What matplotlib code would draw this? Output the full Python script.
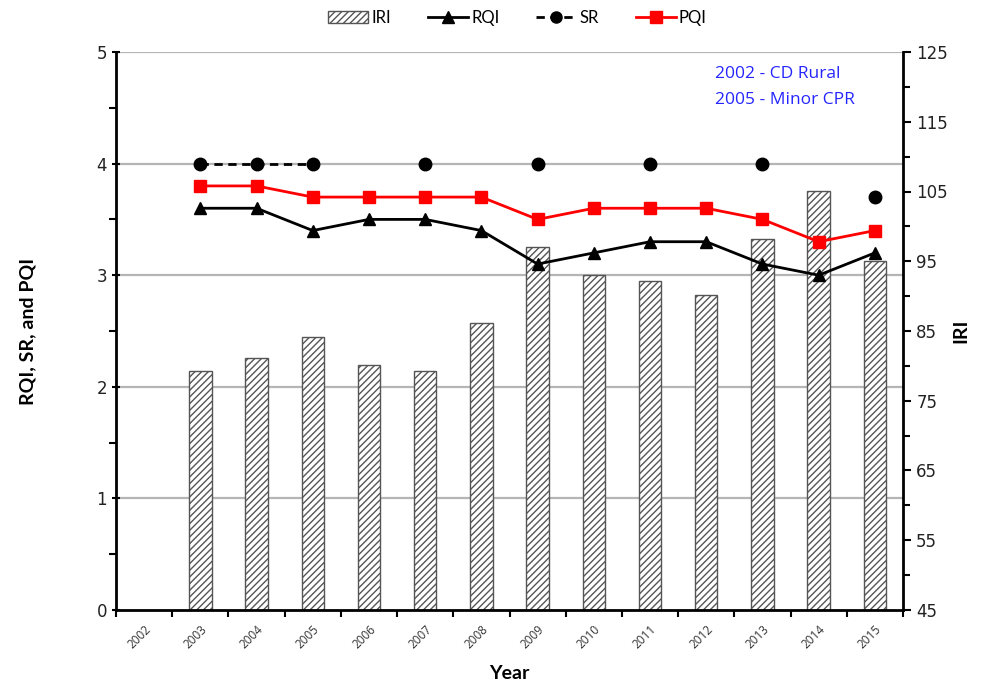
import numpy as np
import matplotlib
matplotlib.use("Agg")
import matplotlib.pyplot as plt
from matplotlib.lines import Line2D
from matplotlib.patches import Patch

years = ["2002", "2003", "2004", "2005", "2006", "2007", "2008", "2009",
         "2010", "2011", "2012", "2013", "2014", "2015"]
iri = [np.nan, 79.2, 81.1, 84.2, 80.1, 79.2, 86.2, 97.1, 93.1, 92.2, 90.2, 98.2, 105.1, 95.1]
rqi = [np.nan, 3.6, 3.6, 3.4, 3.5, 3.5, 3.4, 3.1, 3.2, 3.3, 3.3, 3.1, 3.0, 3.2]
sr = [np.nan, 4.0, 4.0, 4.0, np.nan, 4.0, np.nan, 4.0, np.nan, 4.0, np.nan, 4.0, np.nan, 3.7]
pqi = [np.nan, 3.8, 3.8, 3.7, 3.7, 3.7, 3.7, 3.5, 3.6, 3.6, 3.6, 3.5, 3.3, 3.4]
notes = ["2002 - CD Rural", "2005 - Minor CPR"]

lab_font = ["Lato", "DejaVu Sans"]
txt_font = ["Open Sans", "DejaVu Sans"]

fig = plt.figure(figsize=(9.99, 6.91), dpi=100)
ax = fig.add_axes([116/999, 1 - 610/691, (903-116)/999, (610-52)/691])
ax2 = ax.twinx()

x = np.arange(len(years))

# bars on right axis
ax2.bar(x, iri, width=0.4, color="white", edgecolor="#555555", hatch="/////",
        linewidth=1.0, zorder=2)
ax2.set_ylim(45, 125)
ax2.set_yticks(np.arange(45, 126, 10))
ax2.set_yticks(np.arange(50, 125, 10), minor=True)

# put lines axis above bars
ax.set_zorder(ax2.get_zorder() + 1)
ax.patch.set_visible(False)

ax.set_ylim(0, 5)
ax.set_xlim(-0.5, len(years) - 0.5)
ax.set_yticks(range(0, 6))
ax.set_yticks(np.arange(0.5, 5, 1.0), minor=True)
for yv in [1, 2, 3, 4, 5]:
    ax2.axhline(45 + yv * 16, color="#b5b5b5", linewidth=1.6, zorder=1)

ax.plot(x, rqi, color="black", linewidth=2, marker="^", markersize=8, zorder=4)
ax.plot(x, sr, color="black", linewidth=2, linestyle=(0, (3, 2)), marker="o",
        markersize=9, zorder=4)
ax.plot(x, pqi, color="#ff0000", linewidth=2, marker="s", markersize=9, zorder=5)

# x ticks: majors at boundaries, labels at centers
ax.set_xticks(np.arange(-0.5, len(years), 1.0))
ax.set_xticklabels([])
ax.set_xticks(x, minor=True)
ax.set_xticklabels(years, minor=True, rotation=45, fontsize=8.5,
                   fontfamily=txt_font, ha="right", rotation_mode="anchor",
                   color="#333333")
ax.tick_params(axis="x", which="minor", length=0, pad=9)
ax.tick_params(axis="x", which="major", length=5, width=1.5, direction="out")
ax.tick_params(axis="y", which="major", length=6, width=1.5, labelsize=12,
               direction="inout")
ax.tick_params(axis="y", which="minor", length=5, width=1.5)
ax2.tick_params(axis="y", which="major", length=6, width=1.5, labelsize=12)
ax2.tick_params(axis="y", which="minor", length=5, width=1.5)
for lbl in ax.get_yticklabels() + ax2.get_yticklabels():
    lbl.set_fontfamily("DejaVu Sans")
    lbl.set_color("#222222")

for s in ["left", "bottom"]:
    ax.spines[s].set_linewidth(2)
ax.spines["top"].set_visible(False)
ax.spines["right"].set_visible(False)
ax2.spines["right"].set_linewidth(2)
ax2.spines["top"].set_visible(False)
ax2.spines["left"].set_visible(False)
ax2.spines["bottom"].set_visible(False)

ax.set_xlabel("Year", fontsize=14, fontweight="bold", family=lab_font, labelpad=10)
ax.set_ylabel("RQI, SR, and PQI", fontsize=14, fontweight="bold", family=lab_font,
              labelpad=43)
ax2.set_ylabel("IRI", fontsize=14, fontweight="bold", family=lab_font, labelpad=3)

ax.text(0.761, 0.975, notes[0], transform=ax.transAxes, color="#2525ff",
        fontsize=12.5, family=txt_font, ha="left", va="top")
ax.text(0.761, 0.928, notes[1], transform=ax.transAxes, color="#2525ff",
        fontsize=12.5, family=txt_font, ha="left", va="top")

handles = [
    Patch(facecolor="white", edgecolor="#555555", hatch="/////", label="IRI"),
    Line2D([], [], color="black", lw=2, marker="^", markersize=8, label="RQI"),
    Line2D([], [], color="black", lw=2, ls=(0, (3, 2)), marker="o", markersize=8, label="SR"),
    Line2D([], [], color="#ff0000", lw=2, marker="s", markersize=8, label="PQI"),
]
fig.legend(handles=handles, loc="center", bbox_to_anchor=(0.518, 1 - 18/691), ncol=4,
           frameon=False, prop={"family": lab_font, "size": 12},
           handlelength=2.4, handletextpad=0.2, columnspacing=2.2)

fig.savefig("out.png", dpi=100)
